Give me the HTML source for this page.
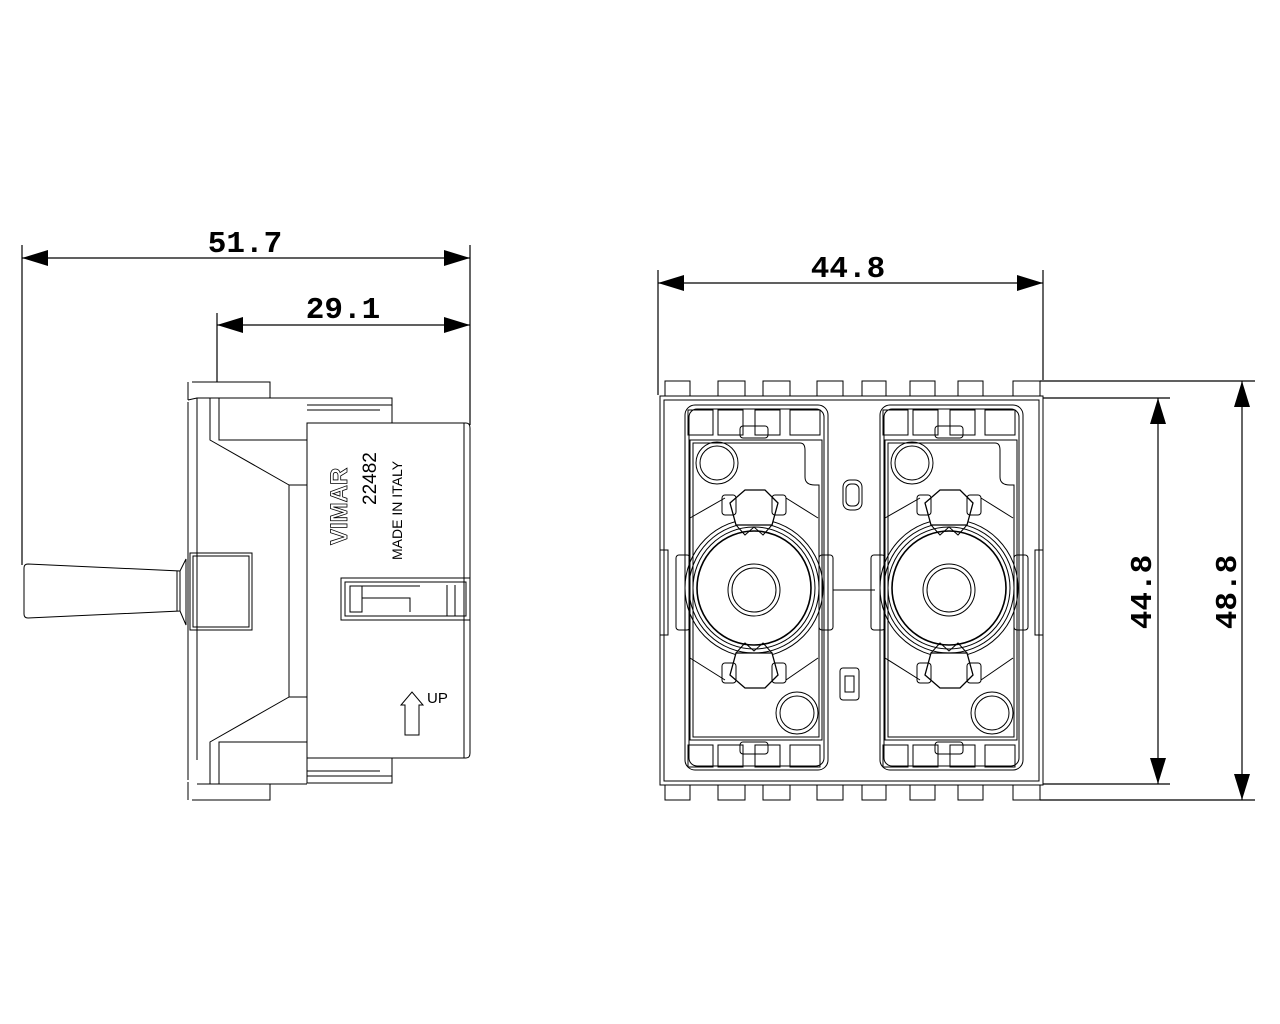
<!DOCTYPE html>
<html><head><meta charset="utf-8"><style>
html,body{margin:0;padding:0;background:#fff;}
svg{display:block}
.d{font-family:"Liberation Mono",monospace;font-size:31px;font-weight:bold;fill:#000}
</style></head><body>
<svg width="1280" height="1024" viewBox="0 0 1280 1024" xmlns="http://www.w3.org/2000/svg">
<defs>
<g id="half" fill="none" stroke="#000" stroke-width="1">
  <rect x="685" y="405" width="143" height="365" rx="10"/>
  <rect x="689" y="409" width="135" height="357" rx="8"/>
  <path d="M690 440 H822 V740 H690 Z"/>
  <path d="M693 443 H800 Q805 443 805 450 V477 Q805 485 815 485 H819 V737 H693 Z"/>
  <g stroke-width="1">
    <rect x="688" y="410" width="25" height="25"/><rect x="718" y="410" width="25" height="25"/>
    <rect x="755" y="410" width="25" height="25"/><rect x="790" y="410" width="30" height="25"/>
    <rect x="688" y="745" width="25" height="22"/><rect x="718" y="745" width="25" height="22"/>
    <rect x="755" y="745" width="25" height="22"/><rect x="790" y="745" width="30" height="22"/>
    <rect x="740" y="426" width="28" height="12" rx="3"/>
    <rect x="740" y="742" width="28" height="12" rx="3"/>
  </g>
  <circle cx="717" cy="463" r="21"/><circle cx="717" cy="463" r="17"/>
  <circle cx="797" cy="713" r="21"/><circle cx="797" cy="713" r="17"/>
  <circle cx="754" cy="588" r="57" stroke-width="1.6"/>
  <circle cx="754" cy="588" r="61"/><circle cx="754" cy="588" r="65"/><circle cx="754" cy="588" r="69"/>
  <circle cx="754" cy="590" r="26"/><circle cx="754" cy="590" r="22"/>
  <path d="M730 503 L745 490 H765 L778 503 L772 525 H736 Z" fill="#fff" stroke-width="1.3"/>
  <path d="M736 525 L745 535 L754 527 L763 535 L772 525"/>
  <rect x="722" y="495" width="14" height="20" rx="3"/><rect x="772" y="495" width="14" height="20" rx="3"/>
  <path d="M730 675 L745 688 H765 L778 675 L772 653 H736 Z" fill="#fff" stroke-width="1.3"/>
  <path d="M736 653 L745 643 L754 651 L763 643 L772 653"/>
  <rect x="722" y="663" width="14" height="20" rx="3"/><rect x="772" y="663" width="14" height="20" rx="3"/>
  <path d="M690 518 L725 498 M818 518 L786 498 M690 658 L725 680 M818 658 L786 680"/>
  <rect x="676" y="555" width="14" height="75" rx="3"/>
  <rect x="819" y="555" width="14" height="75" rx="3"/>
</g>
</defs>

<!-- LEFT VIEW dimensions -->
<g stroke="#000" stroke-width="1.2" fill="none">
  <line x1="22" y1="245" x2="22" y2="565"/>
  <line x1="470" y1="245" x2="470" y2="425"/>
  <line x1="217" y1="313" x2="217" y2="382"/>
  <line x1="22" y1="258" x2="470" y2="258"/>
  <line x1="217" y1="325" x2="470" y2="325"/>
</g>
<g fill="#000">
  <path d="M22 258 L48 250 L48 266 Z"/><path d="M470 258 L444 250 L444 266 Z"/>
  <path d="M217 325 L243 317 L243 333 Z"/><path d="M470 325 L444 317 L444 333 Z"/>
</g>
<text class="d" x="245" y="252" text-anchor="middle">51.7</text>
<text class="d" x="343" y="318" text-anchor="middle">29.1</text>

<!-- LEFT VIEW drawing -->
<g stroke="#000" stroke-width="1" fill="none">
  <path d="M307 423 H466 Q470 423 470 428 V753 Q470 758 466 758 H307 Z"/>
  <line x1="464" y1="423" x2="464" y2="758"/>
  <path d="M307 398 H392 V423 M307 405 H392 M307 410 H380"/>
  <path d="M307 758 V783 H392 V758 M307 776 H392 M307 771 H380"/>
  <path d="M192 382 H270 V398 H197 V760"/>
  <path d="M192 800 H270 V784 H197"/>
  <path d="M188 400 V382 M188 782 V800"/>
  <path d="M188 400 L197 398 M188 402 V780"/>
  <path d="M210 398 V440 L289 485 V697 L210 742 V784"/>
  <path d="M219 398 V440 H307 M219 784 V742 H307"/>
  <line x1="289" y1="485" x2="307" y2="485"/><line x1="289" y1="697" x2="307" y2="697"/>
  <line x1="197" y1="398" x2="307" y2="398"/><line x1="197" y1="784" x2="307" y2="784"/>
  <rect x="190" y="553" width="62" height="77"/>
  <rect x="193" y="556" width="56" height="71"/>
  <path d="M24 568 Q24 564 28 564 L180 571 V611 L28 618 Q24 618 24 614 Z"/>
  <path d="M180 571 L186 559 V625 L180 611 M177 571 V611"/>
  <rect x="341" y="578" width="129" height="42"/>
  <rect x="345" y="582" width="121" height="34"/>
  <path d="M350 586 H362 V612 H350 Z M362 598 H410 V612 M362 586 H420"/>
  <path d="M447 585 V616 M455 585 V616"/>
  <path d="M405 735 V705 H401 L412 692 L423 705 H419 V735 Z"/>
</g>
<g font-family="Liberation Sans, sans-serif" fill="none" stroke="#000" stroke-width="0.8">
  <text x="0" y="0" transform="translate(347,545) rotate(-90)" font-size="24" font-weight="bold">VIMAR</text>
</g>
<g font-family="Liberation Sans, sans-serif" fill="#000">
  <text transform="translate(376,505) rotate(-90)" font-size="19">22482</text>
  <text transform="translate(402,560) rotate(-90)" font-size="14">MADE IN ITALY</text>
  <text x="427" y="703" font-size="15">UP</text>
</g>

<!-- RIGHT VIEW dimensions -->
<g stroke="#000" stroke-width="1.2" fill="none">
  <line x1="658" y1="270" x2="658" y2="395"/>
  <line x1="1043" y1="270" x2="1043" y2="380"/>
  <line x1="658" y1="283" x2="1043" y2="283"/>
  <line x1="1043" y1="398" x2="1170" y2="398"/>
  <line x1="1043" y1="784" x2="1170" y2="784"/>
  <line x1="1040" y1="381" x2="1255" y2="381"/>
  <line x1="1040" y1="800" x2="1255" y2="800"/>
  <line x1="1158" y1="398" x2="1158" y2="784"/>
  <line x1="1242" y1="381" x2="1242" y2="800"/>
</g>
<g fill="#000">
  <path d="M658 283 L684 275 L684 291 Z"/><path d="M1043 283 L1017 275 L1017 291 Z"/>
  <path d="M1158 398 L1150 424 L1166 424 Z"/><path d="M1158 784 L1150 758 L1166 758 Z"/>
  <path d="M1242 381 L1234 407 L1250 407 Z"/><path d="M1242 800 L1234 774 L1250 774 Z"/>
</g>
<text class="d" x="848" y="277" text-anchor="middle">44.8</text>
<text class="d" transform="translate(1151,592) rotate(-90)" text-anchor="middle">44.8</text>
<text class="d" transform="translate(1236,592) rotate(-90)" text-anchor="middle">48.8</text>

<!-- RIGHT VIEW drawing -->
<g stroke="#000" stroke-width="1" fill="none">
  <path d="M660 396 H1043 V785 H660 Z"/>
  <path d="M664 400 H1039 V781 H664 Z"/>
  <g>
    <rect x="665" y="381" width="25" height="15"/><rect x="718" y="381" width="27" height="15"/>
    <rect x="763" y="381" width="27" height="15"/><rect x="817" y="381" width="26" height="15"/>
    <rect x="862" y="381" width="24" height="15"/><rect x="910" y="381" width="25" height="15"/>
    <rect x="958" y="381" width="25" height="15"/><rect x="1013" y="381" width="27" height="15"/>
    <rect x="665" y="785" width="25" height="15"/><rect x="718" y="785" width="27" height="15"/>
    <rect x="763" y="785" width="27" height="15"/><rect x="817" y="785" width="26" height="15"/>
    <rect x="862" y="785" width="24" height="15"/><rect x="910" y="785" width="25" height="15"/>
    <rect x="958" y="785" width="25" height="15"/><rect x="1013" y="785" width="27" height="15"/>
  </g>
  <rect x="660" y="550" width="8" height="85"/>
  <rect x="1035" y="550" width="8" height="85"/>
  <rect x="843" y="480" width="19" height="30" rx="7"/><rect x="846" y="484" width="13" height="22" rx="5"/>
  <rect x="840" y="668" width="19" height="32" rx="3"/><rect x="845" y="676" width="9" height="16"/>
  <line x1="833" y1="590" x2="875" y2="590"/>
</g>
<use href="#half"/>
<use href="#half" transform="translate(195,0)"/>
</svg>
</body></html>
